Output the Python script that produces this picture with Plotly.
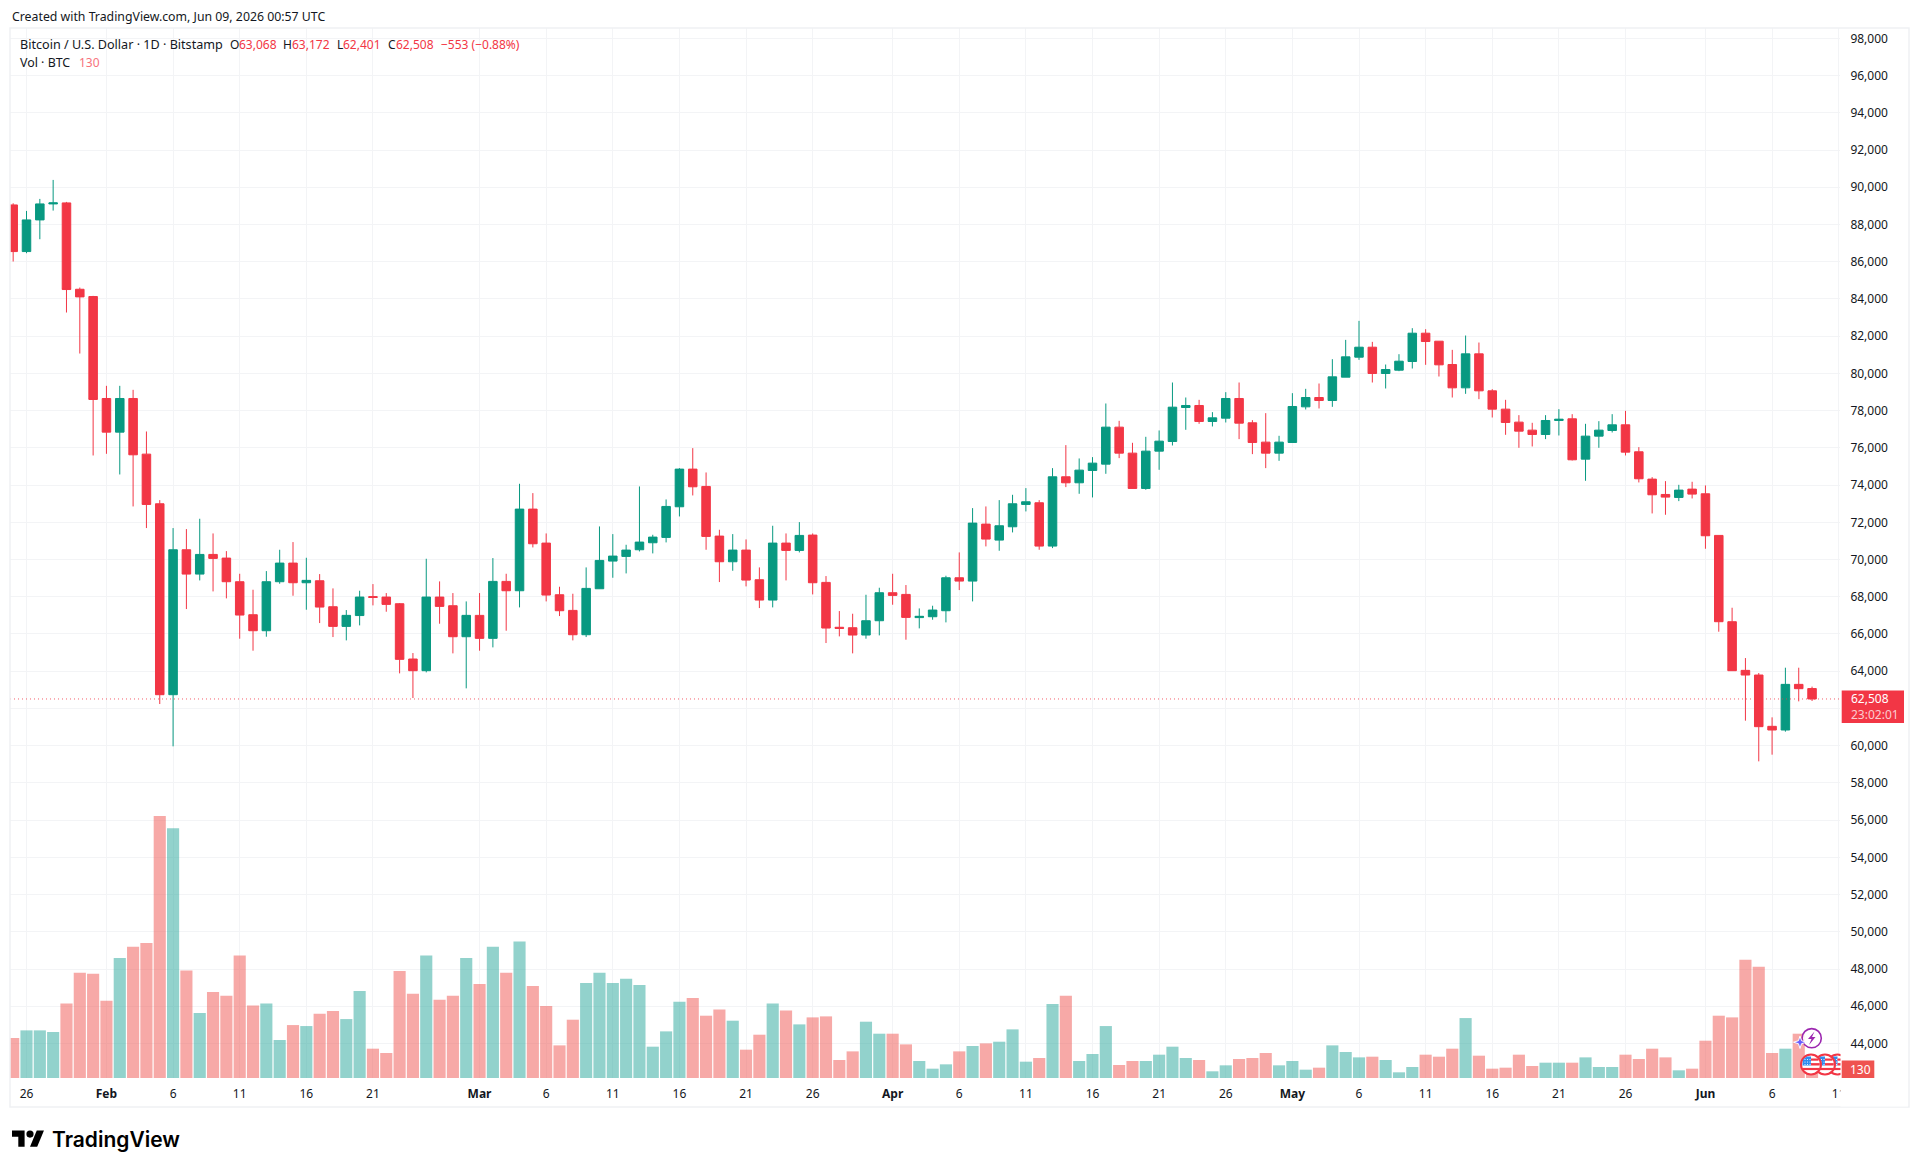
import pandas as pd
import plotly.graph_objects as go

# Daily BTC/USD candles, one row per day starting 25 Jan 2026
FIRST_DAY = "2026-01-25"
OPEN = [89051,86545,88246,89105,89159,84520,84129,78652,76844,78652,75662,72995,62738,70525,69218,70274,70078,68807,67034,66175,68807,69809,68753,68860,67464,66408,66990,68010,67983,67625,64654,64027,67983,67518,65853,
        66999,65764,68825,68323,72709,70883,68108,67267,65960,68430,69916,70167,70525,70901,71187,72834,74857,73926,71259,69880,70507,68914,67822,70883,70489,71313,68771,66360,66336,65943,66712,68216,68126,66880,66927,67249,
        69021,68842,71903,71044,71760,72959,73049,70722,74445,74123,74785,75125,77112,75716,73818,75823,76342,78168,78276,77417,77595,78652,77345,76307,75716,76289,78204,78705,78544,79797,80871,81408,79994,80173,80639,
        82160,81730,80477,79224,81050,79063,78079,77381,76951,76718,77470,77560,75394,76629,76933,77237,75788,74320,73496,73335,73783,73532,71295,66659,64045,63795,61038,60841,63293,63068]
HIGH = [89140,88729,89374,90394,89213,84612,84165,79332,79332,79117,76880,73192,71690,71635,72190,71402,70453,69236,68377,69379,70525,70937,70095,69218,68449,67285,68323,68681,68198,67661,64976,70042,68825,68198,67750,
        68198,70077,69236,74069,73568,71402,68538,68162,69576,71778,71366,70793,73926,71330,73228,74910,75985,74678,71599,71366,71080,69576,71814,71402,72011,71402,69111,67231,67088,68108,68484,69236,68628,67374,67518,69129,
        70382,72762,72852,73192,73478,73837,73192,74910,76146,75430,75501,78383,77452,76271,76593,76933,79511,78705,78580,77918,78992,79511,77488,77864,76647,78938,79171,79457,80764,81802,82822,81695,80477,81032,82429,
        82375,81730,81265,82035,81659,79153,78580,77757,77345,77757,78079,77810,77291,77434,77810,77989,76038,74427,74212,74015,74177,73980,71295,67410,64707,63902,61521,64188,64188,63172]
LOW = [86010,86456,87208,88747,83270,81068,75590,75680,74570,72852,71690,62237,59964,67339,68878,68287,67912,65746,65101,65853,68699,68055,67303,66587,65835,65656,66462,67536,67196,63884,62559,63938,66551,64958,63079,
       65101,65280,66175,67428,70650,67750,66963,65656,65835,68430,69021,69254,70435,70328,70919,72315,73443,70525,68789,69397,68556,67392,67428,68878,70382,68126,65513,65871,64958,65746,65925,67571,65692,66301,66766,66623,
       68359,67750,70704,70471,71456,72584,70525,70614,73890,73532,73335,74606,75447,73818,73747,74821,76127,76969,77291,77148,77363,76468,75662,74910,75304,76289,78061,78115,78204,79797,80728,79511,79189,80119,80263,
       80460,79833,78705,78902,78616,77631,76700,76002,76074,76468,76665,75322,74230,76002,76826,75591,74141,72476,72404,73138,73282,70579,66122,64027,61342,59157,59516,60752,62380,62401]
CLOSE = [86545,88246,89105,89160,84505,84110,78598,76844,78652,75626,72959,62738,70525,69218,70274,70060,68807,67017,66175,68807,69809,68753,68880,67446,66408,67000,67983,67960,67590,64636,64027,67983,67482,65853,67000,
         65764,68825,68323,72709,70847,68091,67249,65960,68449,69952,70185,70507,70937,71205,72852,74857,73908,71241,69880,70507,68896,67822,70883,70489,71295,68753,66318,66300,65943,66712,68216,68073,66891,66950,67285,69021,
         68842,71957,71098,71814,72995,73102,70722,74445,74123,74803,75179,77112,75716,73818,75823,76360,78186,78276,77417,77613,78652,77327,76289,75716,76307,78222,78705,78544,79815,80889,81408,79994,80209,80656,82160,
         81712,80460,79224,81050,79063,78079,77363,76897,76718,77470,77540,75358,76629,76951,77237,75770,74338,73478,73353,73729,73514,71277,66659,64027,63795,61020,60841,63293,63061,62508]
VOLUME = [1000,1191,1191,1150,1866,2632,2607,1933,2999,3282,3374,6556,6248,2691,1624,2149,2058,3065,1816,1866,950,1324,1299,1608,1674,1474,2174,733,625,2674,2107,3065,1958,2058,2999,
          2349,3282,2632,3415,2299,1799,816,1458,2374,2632,2374,2482,2324,783,1166,1908,2000,1558,1716,1433,708,1083,1866,1691,1341,1516,1541,450,666,1408,1108,1108,841,425,233,342,
          666,800,866,908,1216,408,500,1849,2058,425,600,1299,325,425,425,583,783,500,450,167,317,475,500,625,317,425,208,258,816,650,516,533,450,142,275,
          583,533,733,1499,558,233,258,583,300,383,383,383,516,275,275,583,475,733,516,192,233,933,1558,1516,2957,2782,625,733,1108,130]

TICK_DATES = ["2026-01-26","2026-02-01","2026-02-06","2026-02-11","2026-02-16","2026-02-21",
              "2026-03-01","2026-03-06","2026-03-11","2026-03-16","2026-03-21","2026-03-26",
              "2026-04-01","2026-04-06","2026-04-11","2026-04-16","2026-04-21","2026-04-26",
              "2026-05-01","2026-05-06","2026-05-11","2026-05-16","2026-05-21","2026-05-26",
              "2026-06-01","2026-06-06","2026-06-11"]
TICK_LABELS = ["26","<b>Feb</b>","6","11","16","21",
               "<b>Mar</b>","6","11","16","21","26",
               "<b>Apr</b>","6","11","16","21","26",
               "<b>May</b>","6","11","16","21","26",
               "<b>Jun</b>","6","11"]
PRICE_TICKS = list(range(44000, 100000, 2000))
# Tick whose label sits behind the last-price tag
HIDDEN_PRICE_LABEL = 62000

UP = "#089981"
DOWN = "#F23645"
VOL_UP = "rgba(38,166,154,0.5)"
VOL_DOWN = "rgba(239,83,80,0.5)"
INK = "#131722"
GRID = "#F3F4F6"
FRAME = "#EFF1F4"
FONT = "Noto Sans"

# Pane box in page pixels
WIDTH, HEIGHT = 1920, 1171
LEFT, RIGHT, TOP, BOTTOM = 10, 1840, 28, 1078.5

dates = pd.date_range(FIRST_DAY, periods=len(CLOSE), freq="D")


def px(x):
    return (x - LEFT) / (RIGHT - LEFT)


def py(y):
    return (BOTTOM - y) / (BOTTOM - TOP)


def poly(points, **style):
    d = "M" + " L".join(f"{px(x):.6f},{py(y):.6f}" for x, y in points) + " Z"
    return dict(type="path", path=d, xref="paper", yref="paper", **style)


def box(x0, y0, x1, y1, fill=None, line=None, width=0, **extra):
    return dict(type="rect", xref="paper", yref="paper", x0=px(x0), x1=px(x1), y0=py(y0), y1=py(y1),
                fillcolor=fill, line=dict(color=line, width=width), **extra)


def disc(cx, cy, r, fill, line=None, width=0):
    return dict(type="circle", xref="paper", yref="paper", x0=px(cx - r), x1=px(cx + r),
                y0=py(cy + r), y1=py(cy - r), fillcolor=fill, line=dict(color=line, width=width))


def label(x, y, text, color=INK, size=12, anchor="left", **font):
    return dict(x=px(x), y=py(y), xref="paper", yref="paper", text=text, showarrow=False,
                xanchor=anchor, yanchor="middle", borderpad=0,
                font=dict(family=FONT, size=size, color=color, **font))


def flag(cx, cy):
    # Round US flag event marker
    red = "#F23645"
    blue = "#2F8CF0"
    parts = [disc(cx, cy, 10, "#FFFFFF", red, 2)]
    parts.append(poly([(cx - 8, cy - 5), (cx - 4, cy - 8), (cx, cy - 8), (cx, cy + 1), (cx - 8.6, cy + 1)],
                      fillcolor=blue, line=dict(width=0)))
    parts.append(box(cx, cy - 6, cx + 7.4, cy - 3.8, red))
    parts.append(box(cx, cy - 1.4, cx + 8.8, cy + 1, red))
    parts.append(box(cx - 8.4, cy + 3.4, cx + 8.4, cy + 5.6, red))
    for dx in (-6, -3.5, -1):
        for dy in (-5, -2.5, 0):
            parts.append(disc(cx + dx, cy + dy, 0.55, "#FFFFFF"))
    return parts


fig = go.Figure()

# Volume histogram sits on its own hidden scale under the candles
fig.add_trace(go.Bar(
    x=dates, y=VOLUME, yaxis="y",
    marker=dict(color=[VOL_UP if c >= o else VOL_DOWN for o, c in zip(OPEN, CLOSE)], line=dict(width=0)),
    hoverinfo="skip",
))

fig.add_trace(go.Candlestick(
    x=dates, open=OPEN, high=HIGH, low=LOW, close=CLOSE, yaxis="y2",
    increasing=dict(line=dict(color=UP, width=1), fillcolor=UP),
    decreasing=dict(line=dict(color=DOWN, width=1), fillcolor=DOWN),
    whiskerwidth=0,
))

# Last price line
shapes = [dict(type="line", xref="paper", yref="y2", x0=0, x1=1, y0=CLOSE[-1], y1=CLOSE[-1],
               line=dict(color="rgba(242,54,69,0.8)", width=1, dash="1px,3px"))]

# Chart frame
shapes.append(box(10, 28, 1909, 1107.5, None, FRAME, 1.5))

# Event markers on the last bars: sparkle, lightning, three US flags
shapes += [disc(1811.7, 1038.7, 9.6, "rgba(255,255,255,0.85)", "#9C27B0", 1.6)]
shapes.append(poly([(1814.5, 1032), (1808, 1039.5), (1811.5, 1039.5), (1809, 1045.5), (1815.5, 1037.5), (1812, 1037.5)],
                   fillcolor="#9C27B0", line=dict(width=0)))
shapes.append(poly([(1800, 1036.5), (1801.5, 1041.2), (1806.5, 1042.7), (1801.5, 1044.2), (1800, 1049),
                    (1798.5, 1044.2), (1793.5, 1042.7), (1798.5, 1041.2)],
                   fillcolor="#6A5CFF", line=dict(color="#FFFFFF", width=1)))
shapes += flag(1837.5, 1065) + flag(1825, 1065) + flag(1811, 1065)

# Everything right of the pane hides what overflows it
shapes.append(box(1840.5, 1053, 1908, 1107, "#FFFFFF"))

# Value tags on the price scale
shapes.append(box(1841.7, 690.7, 1904, 723.3, DOWN))
shapes.append(box(1841.7, 1061, 1874.3, 1078.5, "#EF5350"))

# Trading View mark in the bottom corner
LOGO_X, LOGO_Y, LOGO_S = 12, 1127.4, 0.9


def logo(points):
    return poly([(LOGO_X + a * LOGO_S, LOGO_Y + b * LOGO_S) for a, b in points], fillcolor="#000000", line=dict(width=0))


shapes.append(logo([(14, 22), (7, 22), (7, 11), (0, 11), (0, 4), (14, 4)]))
shapes.append(logo([(28, 22), (20, 22), (27.5, 4), (35.5, 4)]))
shapes.append(disc(LOGO_X + 20 * LOGO_S, LOGO_Y + 8 * LOGO_S, 4 * LOGO_S, "#000000"))

annotations = [
    label(10.5, 16, "Created with TradingView.com, Jun 09, 2026 00:57 UTC", size=12.3),
    label(19, 44.7, "Bitcoin / U.S. Dollar · 1D · Bitstamp", size=12.6),
    label(228.6, 44.7, "O"), label(237.5, 44.7, f"{OPEN[-1]:,}", DOWN),
    label(282, 44.7, "H"), label(290.7, 44.7, f"{HIGH[-1]:,}", DOWN),
    label(336, 44.7, "L"), label(342, 44.7, f"{LOW[-1]:,}", DOWN),
    label(387, 44.7, "C"), label(394.6, 44.7, f"{CLOSE[-1]:,}", DOWN),
    label(440, 44.7, f"−{CLOSE[-2] - CLOSE[-1]} (−0.88%)", DOWN),
    label(19, 63, "Vol · BTC", size=12.4),
    label(78, 63, f"{VOLUME[-1]}", "#F7727C"),
    # Price and countdown share one two-line tag
    dict(label(1850, 707, f"{CLOSE[-1]:,}<br><span style='color:rgba(255,255,255,0.75)'>23:02:01</span>", "#FFFFFF"),
         align="left"),
    label(1860, 1070, f"{VOLUME[-1]}", "#FFFFFF", anchor="center"),
    label(51, 1140, "TradingView", "#000000", size=21, weight=600),
]
annotations[-1]["font"]["family"] = "Inter"

day0 = pd.Timestamp(FIRST_DAY)
day_px = 13.325
x_start = day0 + pd.Timedelta(days=(LEFT - (26.5 - day_px)) / day_px)
x_end = day0 + pd.Timedelta(days=(RIGHT - (26.5 - day_px)) / day_px)

PRICE_PER_PX = 53.7
price_low = 60000 - (BOTTOM - 746) * PRICE_PER_PX
price_high = 60000 + (746 - TOP) * PRICE_PER_PX
VOL_PER_PX = 25

fig.update_layout(
    width=WIDTH, height=HEIGHT, autosize=False,
    margin=dict(l=LEFT, r=WIDTH - RIGHT, t=TOP, b=HEIGHT - BOTTOM, pad=0),
    paper_bgcolor="#FFFFFF", plot_bgcolor="#FFFFFF",
    showlegend=False, bargap=0.09, boxgap=0.2, boxgroupgap=0.2,
    font=dict(family=FONT, size=12, color=INK),
    xaxis=dict(type="date", range=[x_start, x_end], rangeslider=dict(visible=False),
               tickmode="array", tickvals=TICK_DATES, ticktext=TICK_LABELS,
               showgrid=True, gridcolor=GRID, gridwidth=1, zeroline=False, showline=False,
               ticks="outside", ticklen=5, tickcolor="rgba(0,0,0,0)", tickangle=0,
               tickfont=dict(family=FONT, size=12, color=INK)),
    yaxis=dict(range=[0, (BOTTOM - TOP) * VOL_PER_PX], visible=False, showgrid=False, fixedrange=True),
    yaxis2=dict(range=[price_low, price_high], overlaying="y", side="right", anchor="x",
                tickmode="array", tickvals=PRICE_TICKS,
                ticktext=["" if v == HIDDEN_PRICE_LABEL else f"{v:,}" for v in PRICE_TICKS],
                showgrid=True, gridcolor=GRID, gridwidth=1, zeroline=False, showline=False,
                ticks="outside", ticklen=7, tickcolor="rgba(0,0,0,0)",
                tickfont=dict(family=FONT, size=12, color=INK)),
    shapes=shapes, annotations=annotations,
)

fig.write_html("out.html")
